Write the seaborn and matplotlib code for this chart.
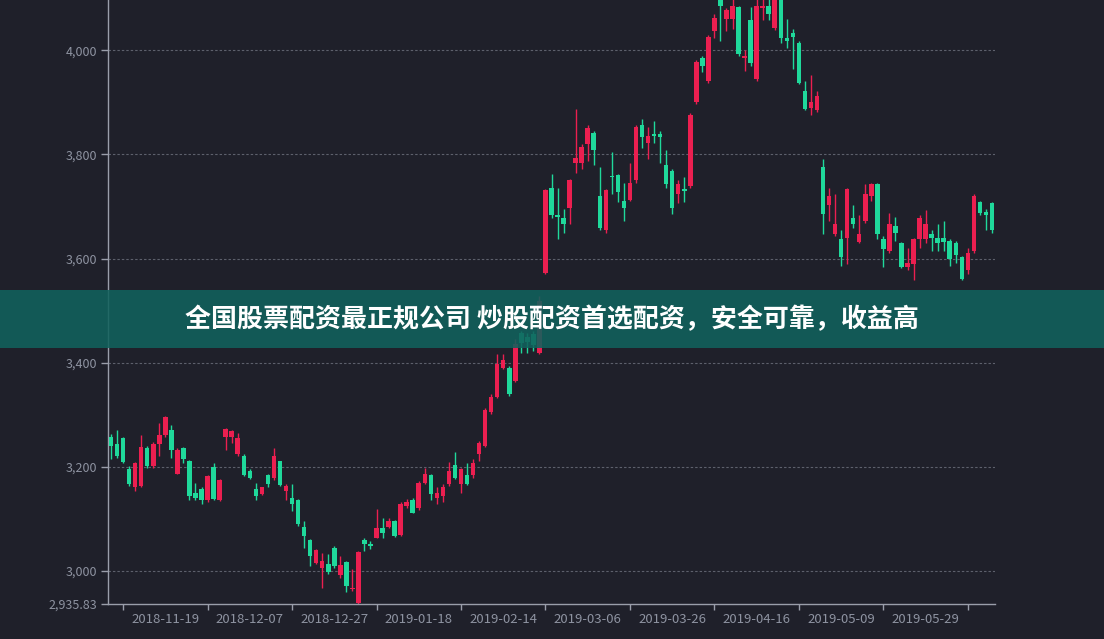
import numpy as np
import pandas as pd
import seaborn as sns
import matplotlib.pyplot as plt
from matplotlib.patches import Rectangle

# trading days shown on the category axis
dates = (
    ['2018-11-%s' % d for d in ['06', '07', '08', '09', '12', '13', '14', '15', '16', '19', '20', '21', '22', '23', '26', '27', '28', '29', '30']]
    + ['2018-12-%s' % d for d in ['03', '04', '05', '06', '07', '10', '11', '12', '13', '14', '17', '18', '19', '20', '21', '24', '25', '26', '27', '28']]
    + ['2019-01-%s' % d for d in ['02', '03', '04', '07', '08', '09', '10', '11', '14', '15', '16', '17', '18', '21', '22', '23', '24', '25', '28', '29', '30', '31']]
    + ['2019-02-%s' % d for d in ['01', '11', '12', '13', '14', '15', '18', '19', '20', '21', '22', '25', '26', '27', '28']]
    + ['2019-03-%s' % d for d in ['01', '04', '05', '06', '07', '08', '11', '12', '13', '14', '15', '18', '19', '20', '21', '22', '25', '26', '27', '28', '29']]
    + ['2019-04-%s' % d for d in ['01', '02', '03', '04', '08', '09', '10', '11', '12', '15', '16', '17', '18', '19', '22', '23', '24', '25', '26', '29', '30']]
    + ['2019-05-%s' % d for d in ['06', '07', '08', '09', '10', '13', '14', '15', '16', '17', '20', '21', '22', '23', '24', '27', '28', '29', '30', '31']]
    + ['2019-06-%s' % d for d in ['03', '04', '05', '06', '10', '11', '12', '13', '14']]
)

opens = [3256, 3244, 3254, 3196, 3160, 3163, 3236, 3202, 3244, 3260,
         3271, 3186, 3235, 3211, 3150, 3156, 3135, 3200, 3135, 3256,
         3256, 3225, 3221, 3192, 3156, 3148, 3183, 3179, 3210, 3154,
         3140, 3136, 3084, 3058, 3015, 3006, 3013, 3044, 2992, 3017,
         2965, 2938, 3058, 3052, 3063, 3081, 3083, 3096, 3069, 3125,
         3135, 3121, 3169, 3183, 3140, 3144, 3167, 3204, 3167, 3183,
         3183, 3225, 3240, 3304, 3333, 3390, 3390, 3365, 3456, 3450,
         3454, 3419, 3573, 3736, 3683, 3677, 3698, 3783, 3784, 3821,
         3842, 3721, 3654, 3758, 3760, 3711, 3713, 3750, 3856, 3823,
         3840, 3840, 3779, 3769, 3725, 3733, 3740, 3900, 3986, 3942,
         4038, 4105, 4061, 4061, 4083, 3986, 4058, 3946, 4081, 4086,
         4044, 4115, 4023, 4034, 4015, 3923, 3890, 3885, 3775, 3702,
         3648, 3638, 3640, 3677, 3631, 3673, 3721, 3744, 3638, 3615,
         3663, 3629, 3583, 3590, 3638, 3638, 3648, 3640, 3640, 3634,
         3629, 3602, 3577, 3615, 3708, 3690, 3706]
closes = [3240, 3221, 3208, 3167, 3206, 3238, 3202, 3244, 3260, 3296,
          3231, 3231, 3215, 3144, 3140, 3135, 3181, 3138, 3175, 3273,
          3269, 3254, 3183, 3179, 3144, 3160, 3167, 3221, 3165, 3163,
          3129, 3090, 3067, 3029, 3040, 3019, 2998, 3008, 3011, 2971,
          2967, 3036, 3052, 3048, 3081, 3073, 3096, 3067, 3129, 3131,
          3111, 3169, 3186, 3148, 3150, 3161, 3192, 3179, 3196, 3167,
          3206, 3246, 3308, 3333, 3398, 3404, 3340, 3435, 3438, 3440,
          3433, 3519, 3731, 3683, 3679, 3667, 3750, 3794, 3815, 3850,
          3808, 3658, 3731, 3756, 3727, 3698, 3746, 3852, 3833, 3836,
          3836, 3834, 3744, 3698, 3744, 3729, 3875, 3977, 3971, 4025,
          4063, 4086, 4077, 4086, 3994, 3990, 3975, 4086, 4086, 4071,
          4110, 4023, 4019, 4025, 3938, 3888, 3900, 3913, 3686, 3721,
          3667, 3602, 3733, 3667, 3648, 3725, 3744, 3648, 3619, 3667,
          3650, 3583, 3592, 3638, 3677, 3667, 3640, 3629, 3631, 3600,
          3606, 3561, 3611, 3721, 3688, 3683, 3654]
highs = [3263, 3271, 3256, 3202, 3208, 3260, 3240, 3248, 3283, 3298,
         3279, 3235, 3237, 3213, 3169, 3160, 3183, 3206, 3177, 3275,
         3271, 3265, 3225, 3196, 3169, 3161, 3186, 3235, 3211, 3167,
         3167, 3138, 3096, 3060, 3042, 3033, 3031, 3048, 3029, 3019,
         3004, 3038, 3062, 3056, 3119, 3102, 3102, 3098, 3131, 3138,
         3140, 3173, 3198, 3186, 3160, 3167, 3208, 3229, 3198, 3206,
         3215, 3250, 3313, 3340, 3417, 3417, 3394, 3446, 3461, 3456,
         3461, 3527, 3733, 3763, 3736, 3696, 3752, 3888, 3821, 3856,
         3846, 3775, 3734, 3804, 3763, 3746, 3783, 3856, 3869, 3852,
         3865, 3846, 3808, 3773, 3750, 3756, 3879, 3981, 3990, 4029,
         4071, 4126, 4081, 4100, 4086, 4000, 4083, 4100, 4105, 4105,
         4120, 4120, 4061, 4042, 4019, 3942, 3952, 3923, 3792, 3736,
         3725, 3654, 3735, 3702, 3683, 3744, 3746, 3746, 3644, 3688,
         3679, 3631, 3621, 3640, 3683, 3694, 3654, 3667, 3673, 3638,
         3634, 3604, 3621, 3725, 3711, 3696, 3708]
lows = [3215, 3217, 3206, 3163, 3154, 3160, 3198, 3198, 3221, 3256,
        3217, 3185, 3206, 3135, 3135, 3129, 3131, 3135, 3133, 3231,
        3246, 3221, 3181, 3177, 3135, 3146, 3160, 3175, 3163, 3135,
        3115, 3086, 3044, 3008, 3013, 2967, 2994, 3006, 2986, 2959,
        2961, 2935.83, 3038, 3042, 3063, 3063, 3081, 3065, 3067, 3121,
        3110, 3117, 3167, 3135, 3129, 3131, 3163, 3177, 3150, 3165,
        3179, 3211, 3237, 3302, 3331, 3388, 3336, 3363, 3419, 3419,
        3423, 3417, 3571, 3677, 3638, 3650, 3667, 3765, 3773, 3788,
        3779, 3654, 3650, 3725, 3708, 3673, 3711, 3746, 3813, 3792,
        3823, 3784, 3736, 3686, 3706, 3708, 3736, 3898, 3958, 3938,
        4023, 4019, 4038, 4042, 3990, 3961, 3971, 3942, 4058, 4058,
        4040, 4015, 4004, 3965, 3936, 3885, 3875, 3881, 3648, 3673,
        3644, 3586, 3590, 3658, 3629, 3669, 3711, 3638, 3583, 3611,
        3634, 3581, 3577, 3558, 3621, 3629, 3615, 3615, 3615, 3586,
        3592, 3558, 3571, 3611, 3683, 3654, 3650]

x_labels = ['2018-11-19', '2018-12-07', '2018-12-27', '2019-01-18', '2019-02-14',
            '2019-03-06', '2019-03-26', '2019-04-16', '2019-05-09', '2019-05-29']
y_ticks = [2935.83, 3000, 3200, 3400, 3600, 3800, 4000]
y_labels = ['2,935.83', '3,000', '3,200', '3,400', '3,600', '3,800', '4,000']
banner = '全国股票配资最正规公司 炒股配资首选配资，安全可靠，收益高'

bg = '#1f202a'
up_col = '#eb1f50'
down_col = '#1fd99b'
axis_col = '#9a9eaa'
label_col = '#8e93a1'

df = pd.DataFrame({'date': dates, 'open': opens, 'high': highs, 'low': lows, 'close': closes})
df['idx'] = np.arange(len(df))
df['up'] = df['close'] >= df['open']
df['color'] = np.where(df['up'], up_col, down_col)
df['bottom'] = df[['open', 'close']].min(axis=1)
df['body'] = (df['close'] - df['open']).abs().clip(lower=1.5)

sns.set_theme(style='dark', rc={'axes.facecolor': bg, 'figure.facecolor': bg})
plt.rcParams['font.family'] = ['Noto Sans CJK SC', 'DejaVu Sans']

fig = plt.figure(figsize=(11.04, 6.39), dpi=100)
ax = fig.add_axes([108 / 1104, 1 - 604 / 639, 887 / 1104, 604 / 639])
ax.set_facecolor(bg)

# dashed grid lines (not at the bottom min label)
for v in y_ticks[1:]:
    ax.axhline(v, color='#5d606c', lw=0.8, ls=(0, (2.2, 1.8)), zorder=0)

# candles
ax.vlines(df['idx'], df['low'], df['high'], colors=df['color'], lw=1, zorder=2)
ax.bar(df['idx'], df['body'], bottom=df['bottom'], width=0.75, color=df['color'], linewidth=0, zorder=3)

ax.set_xlim(-0.5, len(df) - 0.5)
ax.set_ylim(2935.83, 4097)

ax.set_yticks(y_ticks)
ax.set_yticklabels(y_labels)
lbl_idx = [dates.index(d) for d in x_labels]
ax.set_xticks(lbl_idx)
ax.set_xticklabels(x_labels)
ax.set_xticks([i - 7 for i in lbl_idx] + [lbl_idx[-1] + 7], minor=True)
ax.tick_params(axis='y', length=5, width=1, color=axis_col, labelcolor=label_col, labelsize=9, pad=3, left=True)
ax.tick_params(axis='x', which='major', length=0, labelcolor=label_col, labelsize=9.5, pad=6.5)
ax.tick_params(axis='x', which='minor', length=4, width=1, color=axis_col, bottom=True)
ax.set_xlabel('')
ax.set_ylabel('')
ax.grid(False)

for s in ['top', 'right']:
    ax.spines[s].set_visible(False)
for s in ['left', 'bottom']:
    ax.spines[s].set_visible(True)
    ax.spines[s].set_color(axis_col)
    ax.spines[s].set_linewidth(1)

# ad banner laid over the chart
fig.add_artist(Rectangle((0, 1 - 348 / 639), 1, 58 / 639, transform=fig.transFigure,
                         facecolor='#11625d', alpha=0.88, edgecolor='none', zorder=10))
fig.text(0.5, 1 - 320 / 639, banner, color='white', fontsize=18.7, fontweight='bold',
         ha='center', va='center', zorder=11)

fig.savefig('out.png', dpi=100, facecolor=bg)
